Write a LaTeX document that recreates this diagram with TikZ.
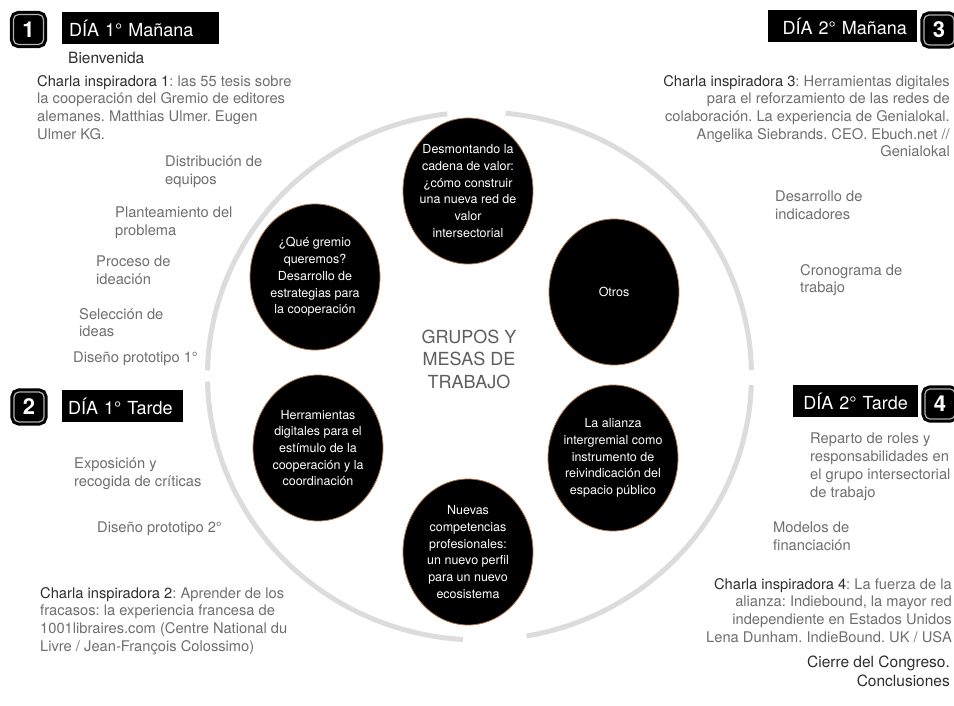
\documentclass[tikz,border=0pt]{standalone}
\usepackage{fontspec}
\setmainfont{TeX Gyre Heros}
\usetikzlibrary{shapes.geometric}
\definecolor{inkgray}{HTML}{6F6F6F}
\definecolor{inkdark}{HTML}{2E2E2E}
\definecolor{ringgray}{HTML}{DCDCDC}
\definecolor{bubbleedge}{HTML}{B07850}
\definecolor{hubgray}{HTML}{5E5E5E}
\frenchspacing

\begin{document}
\begin{tikzpicture}[x=1pt,y=-1pt,
  ring/.style={draw=ringgray,line width=5pt},
  bubble/.style={ellipse,fill=black,draw=bubbleedge,line width=0.8pt,minimum width=130pt,minimum height=146pt,inner sep=0pt},
  bubbletext/.style={text=white,align=center,inner sep=0pt,font=\fontsize{12.5}{16.7}\selectfont},
  numbox/.style={fill=black,draw=black,line width=3pt,double=gray!60,double distance=1.2pt,rounded corners=5pt,minimum size=30pt,inner sep=0pt,text=white,font=\fontsize{22}{22}\selectfont\bfseries},
  daybox/.style={fill=black,text=white,minimum height=32pt,inner ysep=0pt,font=\fontsize{18}{20}\selectfont},
  note/.style={text=inkgray,inner sep=0pt,anchor=north west,align=left,font=\fontsize{14.7}{17.7}\selectfont},
  rnote/.style={note,anchor=north east,align=right},
  bignote/.style={text=inkdark,font=\fontsize{15.5}{18.5}\selectfont}]
  \path[fill=white,use as bounding box] (0,0) rectangle (954,706);
  \coordinate (hub) at (479.5,376);
  \draw[ring] (hub) ++(275.5:272 and 264) arc[start angle=275.5,end angle=358.7,x radius=272,y radius=264];
  \draw[ring] (hub) ++(2:272 and 264) arc[start angle=2,end angle=80,x radius=272,y radius=264];
  \draw[ring] (hub) ++(93.5:272 and 264) arc[start angle=93.5,end angle=178.8,x radius=272,y radius=264];
  \draw[ring] (hub) ++(181.2:272 and 264) arc[start angle=181.2,end angle=263.2,x radius=272,y radius=264];

  \node[text=hubgray,align=center,font=\fontsize{18}{22.5}\selectfont] (grupos) at (469,359) {GRUPOS Y\\MESAS DE\\TRABAJO};

  \node[bubble] (desmontar) at (468,191) {};
  \node[bubble] (quegremio) at (315,277) {};
  \node[bubble] (otros) at (614,292) {};
  \node[bubble] (herramientas) at (318,448) {};
  \node[bubble] (alianza) at (613,458) {};
  \node[bubble] (nuevas) at (468,552) {};
  \node[bubbletext] (desmontar-t) at (desmontar) {Desmontando la\\cadena de valor:\\¿cómo construir\\una nueva red de\\valor\\intersectorial};
  \node[bubbletext] (quegremio-t) at (quegremio) {¿Qué gremio\\queremos?\\Desarrollo de\\estrategias para\\la cooperación};
  \node[bubbletext] (otros-t) at (otros) {Otros};
  \node[bubbletext] (herramientas-t) at (herramientas) {Herramientas\\digitales para el\\estímulo de la\\cooperación y la\\coordinación};
  \node[bubbletext] (alianza-t) at (alianza) {La alianza\\intergremial como\\instrumento de\\reivindicación del\\espacio público};
  \node[bubbletext] (nuevas-t) at (nuevas) {Nuevas\\competencias\\profesionales:\\un nuevo perfil\\para un nuevo\\ecosistema};

  \node[numbox] (num1) at (28.5,29.5) {1};
  \node[numbox] (num2) at (29,407) {2};
  \node[numbox] (num3) at (939,30) {3};
  \node[numbox] (num4) at (940,404) {4};
  \node[daybox,anchor=north west,inner xsep=7pt,text width=143pt,align=left] (day1am) at (62,12) {DÍA 1° Mañana};
  \node[daybox,anchor=north west,inner xsep=6pt,text width=109pt,align=left] (day1pm) at (62,390) {DÍA 1° Tarde};
  \node[daybox,anchor=north east,inner xsep=10pt,text width=129pt,align=right] (day2am) at (917,10) {DÍA 2° Mañana};
  \node[daybox,anchor=north east,inner xsep=10pt,text width=105pt,align=right] (day2pm) at (918,385) {DÍA 2° Tarde};

  \node[note,bignote] (bienvenida) at (68,52) {Bienvenida};
  \node[note] (charla1) at (37,75) {{\color{inkdark}Charla inspiradora 1}: las 55 tesis sobre\\la cooperación del Gremio de editores\\alemanes. Matthias Ulmer. Eugen\\Ulmer KG.};
  \node[note] (distribucion) at (165,156) {Distribución de\\equipos};
  \node[note] (planteamiento) at (115,207) {Planteamiento del\\problema};
  \node[note] (ideacion) at (96,256) {Proceso de\\ideación};
  \node[note] (seleccion) at (79,308) {Selección de\\ideas};
  \node[note] (prototipo1) at (73,352) {Diseño prototipo 1°};

  \node[note] (exposicion) at (74,458) {Exposición y\\recogida de críticas};
  \node[note] (prototipo2) at (97,522) {Diseño prototipo 2°};
  \node[note] (charla2) at (40,587) {{\color{inkdark}Charla inspiradora 2}: Aprender de los\\fracasos: la experiencia francesa de\\1001libraires.com (Centre National du\\Livre / Jean-François Colossimo)};

  \node[rnote] (charla3) at (950,75) {{\color{inkdark}Charla inspiradora 3}: Herramientas digitales\\para el reforzamiento de las redes de\\colaboración. La experiencia de Genialokal.\\Angelika Siebrands. CEO. Ebuch.net //\\Genialokal};
  \node[note] (indicadores) at (775,191) {Desarrollo de\\indicadores};
  \node[note] (cronograma) at (800,264) {Cronograma de\\trabajo};

  \node[note] (reparto) at (810,433) {Reparto de roles y\\responsabilidades en\\el grupo intersectorial\\de trabajo};
  \node[note] (modelos) at (773,522) {Modelos de\\financiación};
  \node[rnote] (charla4) at (952,578) {{\color{inkdark}Charla inspiradora 4}: La fuerza de la\\alianza: Indiebound, la mayor red\\independiente en Estados Unidos\\Lena Dunham. IndieBound. UK / USA};
  \node[rnote,bignote] (cierre) at (950,656) {Cierre del Congreso.\\Conclusiones};
\end{tikzpicture}
\end{document}
